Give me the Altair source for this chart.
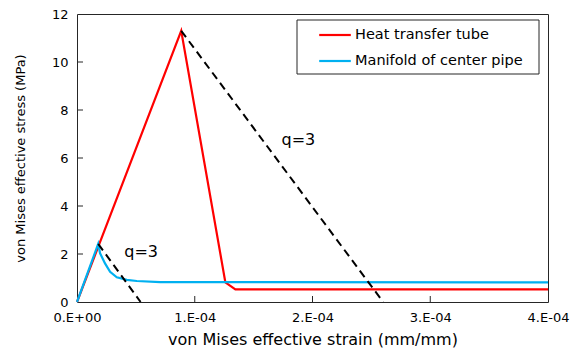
import altair as alt
import pandas as pd

# Stress-strain curves (strain in mm/mm, stress in MPa)
tube_strain = [0.0, 0.885e-4, 1.26e-4, 1.345e-4, 4.0e-4]
tube_stress = [0.0, 11.3, 0.82, 0.53, 0.53]

pipe_strain = [0.0, 0.18e-4, 0.196e-4, 0.238e-4, 0.281e-4, 0.338e-4, 0.423e-4,
               0.508e-4, 0.706e-4, 4.0e-4]
pipe_stress = [0.0, 2.42, 2.03, 1.61, 1.26, 1.03, 0.92, 0.875, 0.83, 0.82]

series_names = ["Heat transfer tube", "Manifold of center pipe"]
series_colors = ["#FF0000", "#00B0F0"]

# Softening slopes (q=3) drawn from each peak down to zero stress
dash_group = ["tube", "tube", "pipe", "pipe"]
dash_strain = [0.885e-4, 2.6e-4, 0.18e-4, 0.54e-4]
dash_stress = [11.3, 0.0, 2.42, 0.0]

note_strain = [1.88e-4, 0.545e-4]
note_stress = [6.75, 2.1]
note_text = ["q=3", "q=3"]

x_ticks = [0.0, 1e-4, 2e-4, 3e-4, 4e-4]
y_ticks = [0, 2, 4, 6, 8, 10, 12]
inner_x_ticks = [1e-4, 2e-4, 3e-4]
inner_y_ticks = [2, 4, 6, 8, 10]

FONT = "DejaVu Sans"
FRAME = "#262626"

curves = pd.DataFrame({
    "strain": tube_strain + pipe_strain,
    "stress": tube_stress + pipe_stress,
    "series": [series_names[0]] * len(tube_strain) + [series_names[1]] * len(pipe_strain),
    "order": list(range(len(tube_strain))) + list(range(len(pipe_strain))),
})
dashes = pd.DataFrame({"group": dash_group, "strain": dash_strain, "stress": dash_stress})
notes = pd.DataFrame({"strain": note_strain, "stress": note_stress, "text": note_text})

x_scale = alt.Scale(domain=[0, 4e-4], nice=False, zero=True)
y_scale = alt.Scale(domain=[0, 12], nice=False)

x_enc = alt.X(
    "strain:Q", scale=x_scale,
    axis=alt.Axis(
        title="von Mises effective strain (mm/mm)", values=x_ticks,
        labelExpr="datum.value == 0 ? '0.E+00' : format(datum.value*1e4, '.0f') + '.E-04'",
        grid=False, domain=False, ticks=False, labelPadding=9, titlePadding=7,
        labelFont=FONT, labelFontSize=13, titleFont=FONT, titleFontSize=16,
        titleFontWeight="normal", labelColor="#000", titleColor="#000",
        labelFlush=False,
    ),
)
y_enc = alt.Y(
    "stress:Q", scale=y_scale,
    axis=alt.Axis(
        title="von Mises effective stress (MPa)", values=y_ticks,
        grid=False, domain=False, ticks=False, labelPadding=9, titlePadding=24,
        labelFont=FONT, labelFontSize=13, titleFont=FONT, titleFontSize=13,
        titleFontWeight="normal", labelColor="#000", titleColor="#000",
        labelFlush=False,
    ),
)

lines = alt.Chart(curves).mark_line(strokeWidth=2.2).encode(
    x=x_enc, y=y_enc,
    color=alt.Color(
        "series:N",
        scale=alt.Scale(domain=series_names, range=series_colors),
        legend=alt.Legend(
            title=None, orient="none", legendX=241, legendY=4,
            symbolType="stroke", symbolSize=1000, symbolStrokeWidth=2.2,
            labelFont=FONT, labelFontSize=14.5, labelColor="#000",
            labelLimit=400, padding=0, labelOffset=3, rowPadding=2,
        ),
    ),
    order="order:Q",
)

# Framed white box behind the legend entries
legend_box = alt.Chart(pd.DataFrame({"box": [0]})).mark_rect(
    fill="white", stroke=FRAME, strokeWidth=1
).encode(x=alt.value(220), x2=alt.value(462), y=alt.value(6), y2=alt.value(60))

dash_lines = alt.Chart(dashes).mark_line(
    color="black", strokeWidth=2, strokeDash=[8, 5]
).encode(x="strain:Q", y="stress:Q", detail="group:N")

note_marks = alt.Chart(notes).mark_text(
    font=FONT, fontSize=16, color="#000"
).encode(x="strain:Q", y="stress:Q", text="text:N")

x_tick_marks = alt.Chart(pd.DataFrame({"strain": inner_x_ticks})).mark_rule(
    color=FRAME, strokeWidth=1
).encode(x="strain:Q", y=alt.value(288), y2=alt.value(282))

y_tick_marks = alt.Chart(pd.DataFrame({"stress": inner_y_ticks})).mark_rule(
    color=FRAME, strokeWidth=1
).encode(y="stress:Q", x=alt.value(0), x2=alt.value(6))

chart = alt.layer(
    lines, dash_lines, note_marks, x_tick_marks, y_tick_marks, legend_box
).properties(
    width=471, height=288,
    autosize=alt.AutoSizeParams(type="none"),
    padding={"left": 77, "top": 14, "right": 27, "bottom": 59},
).configure_view(
    stroke=FRAME, strokeWidth=1
)

chart.save("out.html", embed_options={"renderer": "svg", "actions": False})
